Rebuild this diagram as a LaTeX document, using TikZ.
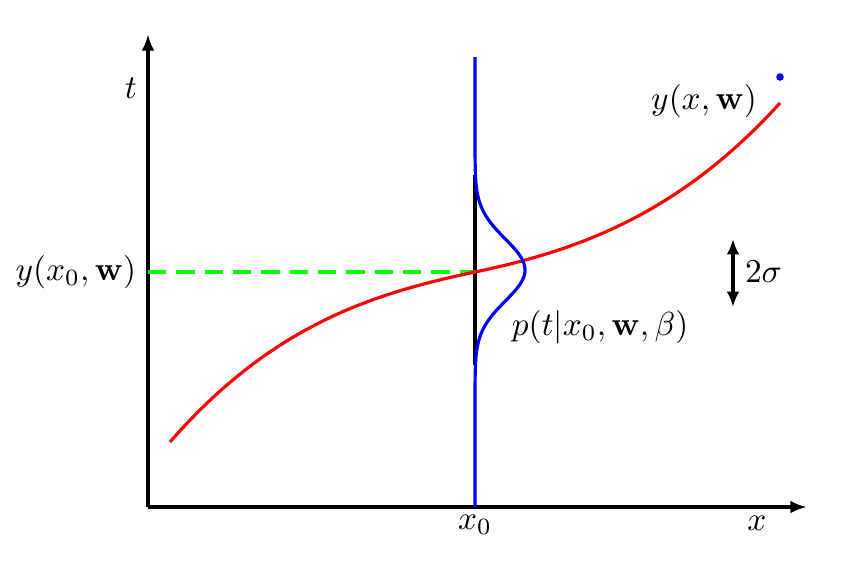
\documentclass[tikz,border=0pt]{standalone}
\usetikzlibrary{arrows.meta}
\begin{document}
\begin{tikzpicture}[x=0.3pt,y=-0.3pt,
  axis/.style={line width=1pt,-{Latex[length=5pt,width=3.8pt]}},
  curve/.style={line width=0.95pt},
  lbl/.style={inner sep=1pt}]
\useasboundingbox (0,0) rectangle (856,582);
\coordinate (O) at (148,507);
\coordinate (T) at (148,34);
\coordinate (X) at (807,507);
\coordinate (X0) at (475,507);
\coordinate (Y0) at (475,272);
\coordinate (Yl) at (148,272);
\coordinate (Bt) at (475,175);
\coordinate (Bb) at (475,365);
\coordinate (Sa) at (733,239);
\coordinate (Sb) at (733,307);
\coordinate (R0) at (170,442);
\coordinate (R1) at (780,103);
\draw[axis] (O) -- (T);
\draw[axis] (O) -- (X);
\draw[line width=1pt] (Bt) -- (Bb);
\draw[green, line width=0.95pt, dash pattern=on 5.5pt off 3pt] (Yl) -- (Y0);
\draw[red, curve] (R0) .. controls (272,325) and (373,293.4) .. (Y0)
  .. controls (577,250.6) and (678,215.2) .. (R1);
\draw[blue, curve] plot[domain=57:507, samples=250, variable=\t]
  ({475+50*exp(-0.5*((\t-270)/31)^2)}, \t);
\draw[line width=0.95pt, {Latex[length=4.6pt,width=3.8pt]}-{Latex[length=4.6pt,width=3.8pt]}] (Sa) -- (Sb);
\fill[blue] (780,77) circle (3.8);
\node[lbl] (tl) at (131,88) {$t$};
\node[lbl] (xl) at (757,523) {$x$};
\node[lbl] (x0l) at (475,525) {$x_0$};
\node[lbl, anchor=east] (y0l) at (140,272) {$y(x_0,\mathbf{w})$};
\node[lbl] (yxl) at (704,101) {$y(x,\mathbf{w})$};
\node[lbl, anchor=west] (sl) at (741,272) {$2\sigma$};
\node[lbl] (pl) at (600,327) {$p(t|x_0,\mathbf{w},\beta)$};
\end{tikzpicture}
\end{document}
